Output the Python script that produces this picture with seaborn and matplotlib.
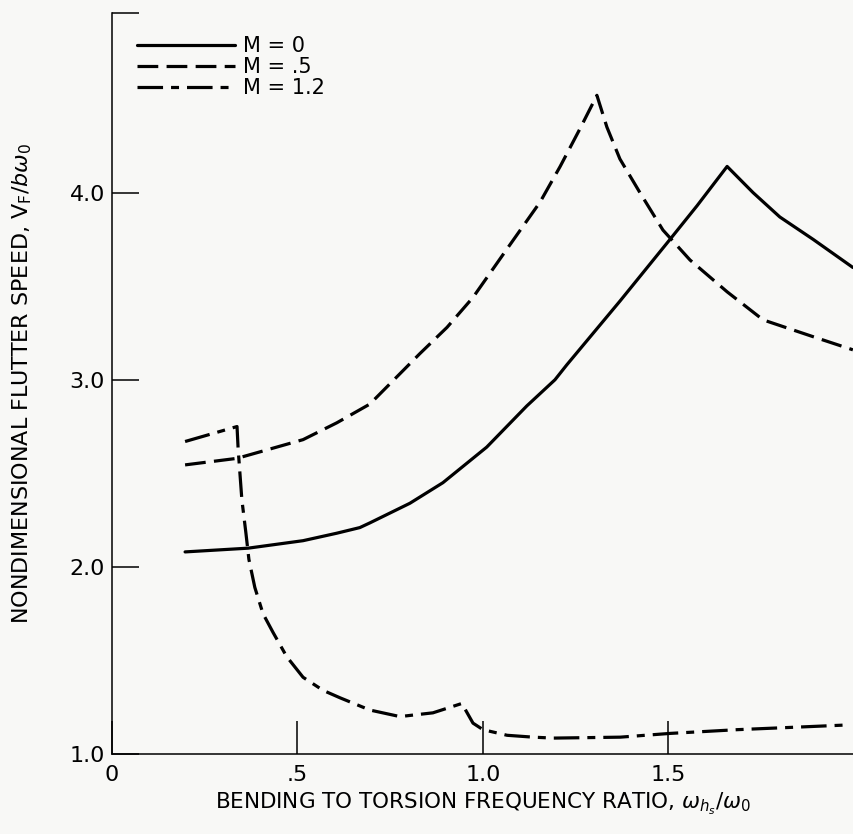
import pandas as pd
import matplotlib
matplotlib.use('Agg')
import matplotlib.pyplot as plt
import seaborn as sns

# curves: x = bending/torsion frequency ratio, y = V_F / b w0
m0_x = [0.197, 0.367, 0.515, 0.606, 0.668, 0.695, 0.803, 0.892, 1.01, 1.118, 1.194, 1.226,
        1.369, 1.504, 1.577, 1.658, 1.728, 1.80, 1.89, 1.997]
m0_y = [2.08, 2.10, 2.14, 2.18, 2.21, 2.235, 2.34, 2.45, 2.64, 2.86, 3.00, 3.08,
        3.42, 3.75, 3.93, 4.14, 4.00, 3.87, 3.75, 3.60]

m05_x = [0.197, 0.337, 0.426, 0.515, 0.606, 0.695, 0.83, 0.903, 0.973, 1.065,
         1.154, 1.208, 1.261, 1.307, 1.334, 1.369, 1.423, 1.485, 1.558, 1.658,
         1.755, 1.89, 1.997]
m05_y = [2.545, 2.58, 2.63, 2.68, 2.77, 2.87, 3.14, 3.28, 3.44, 3.70,
         3.95, 4.14, 4.34, 4.52, 4.35, 4.18, 4.00, 3.80, 3.64, 3.47,
         3.32, 3.23, 3.16]

m12_x = [0.197, 0.337, 0.34, 0.35, 0.361, 0.369, 0.385, 0.407, 0.434, 0.471, 0.515,
         0.569, 0.615, 0.695, 0.776, 0.865, 0.943, 0.973, 1.0, 1.065, 1.135, 1.19,
         1.37, 1.504, 1.685, 1.863, 1.98]
m12_y = [2.67, 2.75, 2.63, 2.36, 2.18, 2.04, 1.89, 1.75, 1.65, 1.52, 1.41,
         1.34, 1.30, 1.235, 1.20, 1.22, 1.27, 1.165, 1.13, 1.10, 1.09, 1.085,
         1.09, 1.11, 1.13, 1.145, 1.155]

labels = ['M = 0', 'M = .5', 'M = 1.2']
xticks = [0, 0.5, 1.0, 1.5]
xtick_labels = ['0', '.5', '1.0', '1.5']
yticks = [1.0, 2.0, 3.0, 4.0, 4.96]
ytick_labels = ['1.0', '2.0', '3.0', '4.0', '']

df = pd.concat([
    pd.DataFrame({'x': m0_x, 'y': m0_y, 'M': labels[0]}),
    pd.DataFrame({'x': m05_x, 'y': m05_y, 'M': labels[1]}),
    pd.DataFrame({'x': m12_x, 'y': m12_y, 'M': labels[2]}),
])

sns.set_style('ticks')
plt.rcParams['font.family'] = ['DejaVu Sans']
plt.rcParams['mathtext.fontset'] = 'dejavusans'
plt.rcParams['text.color'] = 'black'
plt.rcParams['axes.labelcolor'] = 'black'
bg = '#f8f8f6'

fig = plt.figure(figsize=(8.54, 8.34), dpi=100, facecolor=bg)
ax = fig.add_axes([112 / 854, 80 / 834, 742 / 854, 741 / 834])
ax.set_facecolor(bg)

dash_map = {labels[0]: '', labels[1]: (6.5, 2.6), labels[2]: (8, 2.5, 2.5, 2.5)}
sns.lineplot(data=df, x='x', y='y', style='M', dashes=dash_map, color='black',
             linewidth=2.3, sort=False, estimator=None, ax=ax)

ax.set_xlim(0, 2.0)
ax.set_ylim(1.0, 4.96)
ax.set_xticks(xticks)
ax.set_xticklabels(xtick_labels)
ax.set_yticks(yticks)
ax.set_yticklabels(ytick_labels)
ax.tick_params(axis='x', direction='in', length=24, width=1.1, pad=8, labelsize=16,
               colors='black')
ax.tick_params(axis='y', direction='in', length=19.5, width=1.1, pad=5, labelsize=16,
               colors='black')
for s in ['top', 'right']:
    ax.spines[s].set_visible(False)
for s in ['left', 'bottom']:
    ax.spines[s].set_linewidth(1.1)
    ax.spines[s].set_color('black')

ax.set_xlabel(r'BENDING TO TORSION FREQUENCY RATIO, $\omega_{h_s}/\omega_0$', fontsize=15.5, labelpad=4)
ax.set_ylabel(r'NONDIMENSIONAL FLUTTER SPEED, $\mathrm{V_F}/b\omega_0$', fontsize=16, labelpad=26)

handles = ax.get_lines()[:3]
ax.legend(handles, labels, loc='upper left', bbox_to_anchor=(0.034, 0.969), frameon=False,
          handlelength=4.7, handletextpad=0.4, labelspacing=0.05, borderaxespad=0,
          borderpad=0, fontsize=15)

fig.savefig('out.png', dpi=100, facecolor=bg)
